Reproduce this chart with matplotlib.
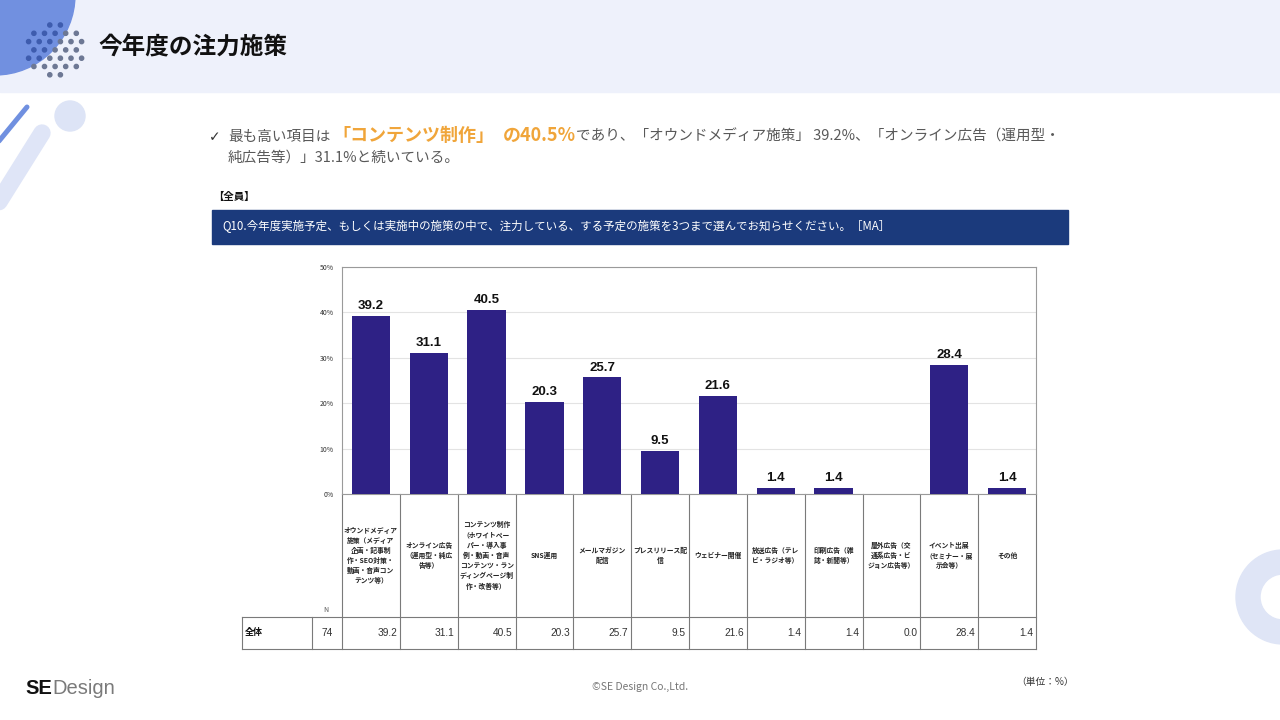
import matplotlib
matplotlib.use('Agg')
import matplotlib.pyplot as plt
from matplotlib.patches import Circle, Rectangle, Wedge
import numpy as np

plt.rcParams['font.family'] = ['Noto Sans CJK JP', 'DejaVu Sans']

# ---------------- data ----------------
categories = [
    "オウンドメディア\n施策（メディア\n企画・記事制\n作・SEO対策・\n動画・音声コン\nテンツ等）",
    "オンライン広告\n（運用型・純広\n告等）",
    "コンテンツ制作\n（ホワイトペー\nパー・導入事\n例・動画・音声\nコンテンツ・ラン\nディングページ制\n作・改善等）",
    "SNS運用",
    "メールマガジン\n配信",
    "プレスリリース配\n信",
    "ウェビナー開催",
    "放送広告（テレ\nビ・ラジオ等）",
    "印刷広告（雑\n誌・新聞等）",
    "屋外広告（交\n通系広告・ビ\nジョン広告等）",
    "イベント出展\n（セミナー・展\n示会等）",
    "その他",
]
values = [39.2, 31.1, 40.5, 20.3, 25.7, 9.5, 21.6, 1.4, 1.4, 0.0, 28.4, 1.4]
n_total = 74
row_label = "全体"
yticks = [0, 10, 20, 30, 40, 50]
ytick_labels = ["0%", "10%", "20%", "30%", "40%", "50%"]

title = "今年度の注力施策"
question = "Q10.今年度実施予定、もしくは実施中の施策の中で、注力している、する予定の施策を3つまで選んでお知らせください。［MA］"

# ---------------- figure ----------------
W, H = 1280, 720
fig = plt.figure(figsize=(12.8, 7.2), dpi=100)
bg = fig.add_axes([0, 0, 1, 1])
bg.set_xlim(0, W)
bg.set_ylim(H, 0)
bg.axis('off')

# header band
bg.add_patch(Rectangle((0, 0), W, 92, color='#eef1fb', zorder=0))
# decorations top-left
bg.add_patch(Circle((-5, -5), 80, color='#7190e0', zorder=1))
for row, yy in enumerate(np.arange(25, 80, 8.3)):
    off = 0 if row % 2 == 0 else 5.3
    for xx in np.arange(18 + off, 95, 10.6):
        if (xx - 55) ** 2 + (yy - 50) ** 2 <= 28 ** 2:
            inside = (xx + 5) ** 2 + (yy + 5) ** 2 < 80 ** 2
            bg.add_patch(Circle((xx, yy), 2.1, color='#3e5cae' if inside else '#6d7894', zorder=2))
bg.plot([-25, 42], [240, 133], color='#dfe5f7', lw=12.5, solid_capstyle='round', zorder=1)
bg.plot([-10, 27], [152, 107], color='#7090e0', lw=3.6, solid_capstyle='round', zorder=2)
bg.add_patch(Circle((70, 116), 15, color='#dde4f6', zorder=1))
# ring bottom-right
bg.add_patch(Wedge((1283, 597), 47, 0, 360, width=24, color='#dfe5f6', zorder=1))

# title
bg.text(98, 47, title, fontsize=17, fontweight='bold', color='#111111', va='center', ha='left')

# summary text with mixed styles
renderer = fig.canvas.get_renderer()
gray = '#595959'
orange = '#f0a53a'


def draw_runs(x, y, runs):
    for txt, kw, gap in runs:
        t = bg.text(x, y, txt, va='baseline', ha='left', **kw)
        bb = t.get_window_extent(renderer)
        x += bb.width + gap
    return x


bg.text(209, 141, "✓", fontsize=10, color='#333333', va='baseline', ha='left', family='DejaVu Sans')
draw_runs(228, 141, [
    ("最も高い項目は", dict(fontsize=10.5, color=gray), 2),
    ("「コンテンツ制作」", dict(fontsize=13, color=orange, fontweight='bold'), 8),
    ("の40.5%", dict(fontsize=13, color=orange, fontweight='bold'), 0),
    ("であり、「オウンドメディア施策」 39.2%、「オンライン広告（運用型・", dict(fontsize=10.5, color=gray), 0),
])
bg.text(228, 162, "純広告等）」31.1%と続いている。", fontsize=10.5, color=gray, va='baseline', ha='left')

# respondent label and question box
bg.text(213, 197, "【全員】", fontsize=7.5, color='#111111', va='center', ha='left', fontweight='bold')
bg.add_patch(Rectangle((212, 210), 856, 34, color='#1b3a7c', zorder=1))
bg.text(222, 227, question, fontsize=8.3, color='white', va='center', ha='left', zorder=2)

# ---------------- bar chart ----------------
ax_l, ax_r, ax_t, ax_b = 342, 1036, 267, 494
ax = fig.add_axes([ax_l / W, (H - ax_b) / H, (ax_r - ax_l) / W, (ax_b - ax_t) / H])
x = np.arange(len(values))
ax.bar(x, values, width=0.66, color='#2e2185', zorder=3)
ax.set_xlim(-0.5, len(values) - 0.5)
ax.set_ylim(0, 50)
ax.set_yticks(yticks)
ax.set_yticklabels(ytick_labels)
ax.set_xticks([])
ax.tick_params(axis='y', length=0, labelsize=5, labelcolor='#333333', pad=6)
ax.grid(axis='y', color='#e3e3e3', lw=0.8, zorder=0)
for s in ax.spines.values():
    s.set_color('#9a9a9a')
    s.set_linewidth(0.8)
ax.patch.set_alpha(0)
for xi, v in zip(x, values):
    if v > 0:
        ax.text(xi, v + 0.8, f"{v:.1f}", ha='center', va='bottom', fontsize=9.5,
                fontweight='bold', color='#111111', family='Liberation Sans')

# ---------------- table below ----------------
fig.canvas.draw()
renderer = fig.canvas.get_renderer()


def data_to_px(xd):
    disp = ax.transData.transform((xd, 0))
    return disp[0]


bounds = [data_to_px(i - 0.5) for i in range(len(values) + 1)]
lc = '#7a7a7a'
lw = 0.8
row_top, row_bot = 617, 649
for bx in bounds:
    bg.plot([bx, bx], [ax_b, row_bot], color=lc, lw=lw, zorder=3)
for bx in [242, 312]:
    bg.plot([bx, bx], [row_top, row_bot], color=lc, lw=lw, zorder=3)
for by in [row_top, row_bot]:
    bg.plot([242, bounds[-1]], [by, by], color=lc, lw=lw, zorder=3)

for i, cat in enumerate(categories):
    cx = (bounds[i] + bounds[i + 1]) / 2
    bg.text(cx, (ax_b + row_top) / 2, cat, ha='center', va='center', fontsize=4.9,
            fontweight='bold', color='#222222', linespacing=1.5, zorder=4)
    bg.text(bounds[i + 1] - 3, (row_top + row_bot) / 2, f"{values[i]:.1f}", ha='right', va='center',
            fontsize=7.3, color='#333333', family='Liberation Sans', zorder=4)

bg.text(326, 610, "N", fontsize=5, color='#555555', ha='center', va='center')
bg.text(245, (row_top + row_bot) / 2, row_label, fontsize=6.5, fontweight='bold', color='#111111',
        ha='left', va='center')
bg.text(327, (row_top + row_bot) / 2, str(n_total), fontsize=7.3, color='#333333', ha='center',
        va='center', family='Liberation Sans')

# ---------------- footer ----------------
t = bg.text(25, 694, "SE", fontsize=14.5, fontweight='bold', color='#111111', va='baseline', ha='left',
            family='Liberation Sans')
bb = t.get_window_extent(renderer)
bg.text(25 + bb.width, 694, "Design", fontsize=14.5, color='#7a7a7a', va='baseline', ha='left',
        family='Liberation Sans')
bg.text(640, 687, "©SE Design Co.,Ltd.", fontsize=7.5, color='#777777', ha='center', va='center')
bg.text(1045, 682, "（単位：%）", fontsize=7, color='#333333', ha='center', va='center')

fig.savefig('out.png', dpi=100)
